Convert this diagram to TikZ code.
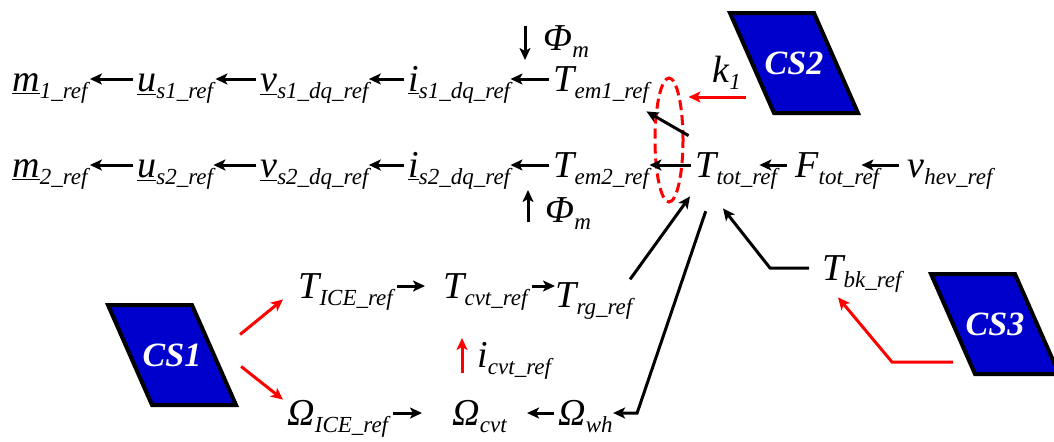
\documentclass[tikz,border=0pt]{standalone}
\usepackage{fontspec}
\setmainfont{Liberation Serif}
\usetikzlibrary{shapes.geometric,arrows.meta}
\definecolor{csblue}{RGB}{0,0,204}
\newcommand{\sbs}[1]{\raisebox{-3.5pt}{\fontsize{11.5}{13}\selectfont\itshape #1}}
\newcommand{\sig}[2]{#1\sbs{#2}}

\begin{document}
\begin{tikzpicture}[x=0.5pt, y=-0.5pt,
    lbl/.style={anchor=base west, inner sep=0pt, text height=12pt, text depth=0pt, font=\fontsize{19}{22}\selectfont\itshape},
    arr/.style={-{Stealth[length=6pt,width=5.5pt,inset=1.5pt]}, line width=1.5pt, shorten <=2pt},
    redarr/.style={arr, draw=red},
    csbox/.style={draw=black, line width=2pt, fill=csblue},
    cstext/.style={inner sep=0pt, text=white, font=\fontsize{17}{20}\selectfont\bfseries\itshape},
    grp/.style={ellipse, draw=red, line width=1.5pt, dash pattern=on 5pt off 2.5pt,
      minimum width=14pt, minimum height=62pt, inner sep=0pt}
  ]
    \useasboundingbox (0,0) rectangle (1054,441);

    % Motor 1 chain
    \node[lbl] (m1) at (12,91) {\sig{\underline{m}}{1\_ref}};
    \node[lbl] (us1) at (137,91) {\sig{\underline{u}}{s1\_ref}};
    \node[lbl] (vs1) at (260,91) {\sig{\underline{v}}{s1\_dq\_ref}};
    \node[lbl] (is1) at (408,91) {\sig{\underline{i}}{s1\_dq\_ref}};
    \node[lbl] (tem1) at (553,91) {\sig{T}{em1\_ref}};
    \node[lbl] (phi1) at (543,50) {\sig{Φ}{m}};

    % Motor 2 chain
    \node[lbl] (m2) at (12,177) {\sig{\underline{m}}{2\_ref}};
    \node[lbl] (us2) at (137,177) {\sig{\underline{u}}{s2\_ref}};
    \node[lbl] (vs2) at (260,177) {\sig{\underline{v}}{s2\_dq\_ref}};
    \node[lbl] (is2) at (408,177) {\sig{\underline{i}}{s2\_dq\_ref}};
    \node[lbl] (tem2) at (553,177) {\sig{T}{em2\_ref}};
    \node[lbl] (phi2) at (545,222) {\sig{Φ}{m}};

    % Vehicle side
    \node[lbl] (ttot) at (695,177) {\sig{T}{tot\_ref}};
    \node[lbl] (ftot) at (795,177) {\sig{F}{tot\_ref}};
    \node[lbl] (vhev) at (907,177) {\sig{v}{hev\_ref}};
    \node[grp] (split) at (669,140) {};
    \node[lbl] (k1) at (712,82) {\sig{k}{1}};
    \node[lbl] (tbk) at (822,280) {\sig{T}{bk\_ref}};

    % Engine and CVT
    \node[lbl] (tice) at (298,298) {\sig{T}{ICE\_ref}};
    \node[lbl] (tcvt) at (443,298) {\sig{T}{cvt\_ref}};
    \node[lbl] (trg) at (555,307) {\sig{T}{rg\_ref}};
    \node[lbl] (icvt) at (477,367) {\sig{i}{cvt\_ref}};
    \node[lbl] (oice) at (287,425) {\sig{Ω}{ICE\_ref}};
    \node[lbl] (ocvt) at (452,425) {\sig{Ω}{cvt}};
    \node[lbl] (owh) at (558,425) {\sig{Ω}{wh}};

    % Control strategies
    \coordinate (cs1c) at (172,355);
    \coordinate (cs2c) at (794,63);
    \coordinate (cs3c) at (995,324);
    \foreach \c in {cs1c,cs2c,cs3c}
      \draw[csbox] (\c) ++(-64,-50) -- ++(84,0) -- ++(44,100) -- ++(-84,0) -- cycle;
    \node[cstext] (cs1) at (cs1c) {CS1};
    \node[cstext] (cs2) at (cs2c) {CS2};
    \node[cstext] (cs3) at (cs3c) {CS3};

    % Row 1 arrows
    \draw[arr, shorten >=1pt] (us1) -- (m1);
    \draw[arr, shorten >=1pt] (vs1) -- (us1);
    \draw[arr] (is1) -- (vs1);
    \draw[arr] (tem1) -- (is1);
    \draw[arr] ([shift={(-18,-16)}]phi1.west) -- ([shift={(-18,22)}]phi1.west);

    % Row 2 arrows
    \draw[arr, shorten >=1pt] (us2) -- (m2);
    \draw[arr] (vs2) -- (us2);
    \draw[arr] (is2) -- (vs2);
    \draw[arr] (tem2) -- (is2);
    \draw[arr] ([shift={(-17,16)}]phi2.west) -- ([shift={(-17,-20)}]phi2.west);

    % Torque split
    \draw[arr] (ttot) -- (tem2);
    \draw[arr] ([shift={(-3,-15)}]ttot.north west) -- ([shift={(-3,20)}]tem1.south east);
    \draw[arr, shorten <=4pt, shorten >=-9pt] (ftot) -- (ttot);
    \draw[arr, shorten <=4pt, shorten >=-9pt] (vhev) -- (ftot);
    \coordinate (k1tail) at ([shift={(-44,34)}]cs2.center);
    \draw[redarr, shorten >=2pt] (k1tail) -- (k1tail -| split.east);

    % Engine path
    \draw[redarr] ([shift={(65,-18)}]cs1.center) -- ([shift={(-15,1)}]tice.south west);
    \draw[redarr] ([shift={(66,9)}]cs1.center) -- ([shift={(-4,-1)}]oice.north west);
    \draw[arr, shorten >=9pt] (tice) -- (tcvt);
    \draw[arr] (tcvt.east) -- (tcvt.east -| trg.west);
    \draw[arr] ([shift={(-5,0)}]trg.north east) -- ([shift={(-5,19)}]ttot.south west);
    \draw[arr, shorten >=15pt] (oice) -- (ocvt);
    \draw[arr, shorten <=2pt, shorten >=10pt] (owh) -- (ocvt);
    \draw[arr] ([shift={(12,30)}]ttot.south west) -- ([xshift=12pt]owh.east) -- (owh.east);
    \draw[redarr] ([shift={(-15,22)}]icvt.west) -- ([shift={(-15,-17)}]icvt.west);

    % Brake path
    \draw[arr] ([xshift=-4.5pt]tbk.west) -- ([xshift=-26pt]tbk.west) -- ([shift={(28,31)}]ttot.south west);
    \draw[redarr] ([shift={(-38,38)}]cs3.center) -- ([shift={(-103,38)}]cs3.center)
      -- ([shift={(16,17)}]tbk.south west);
  \end{tikzpicture}
\end{document}
